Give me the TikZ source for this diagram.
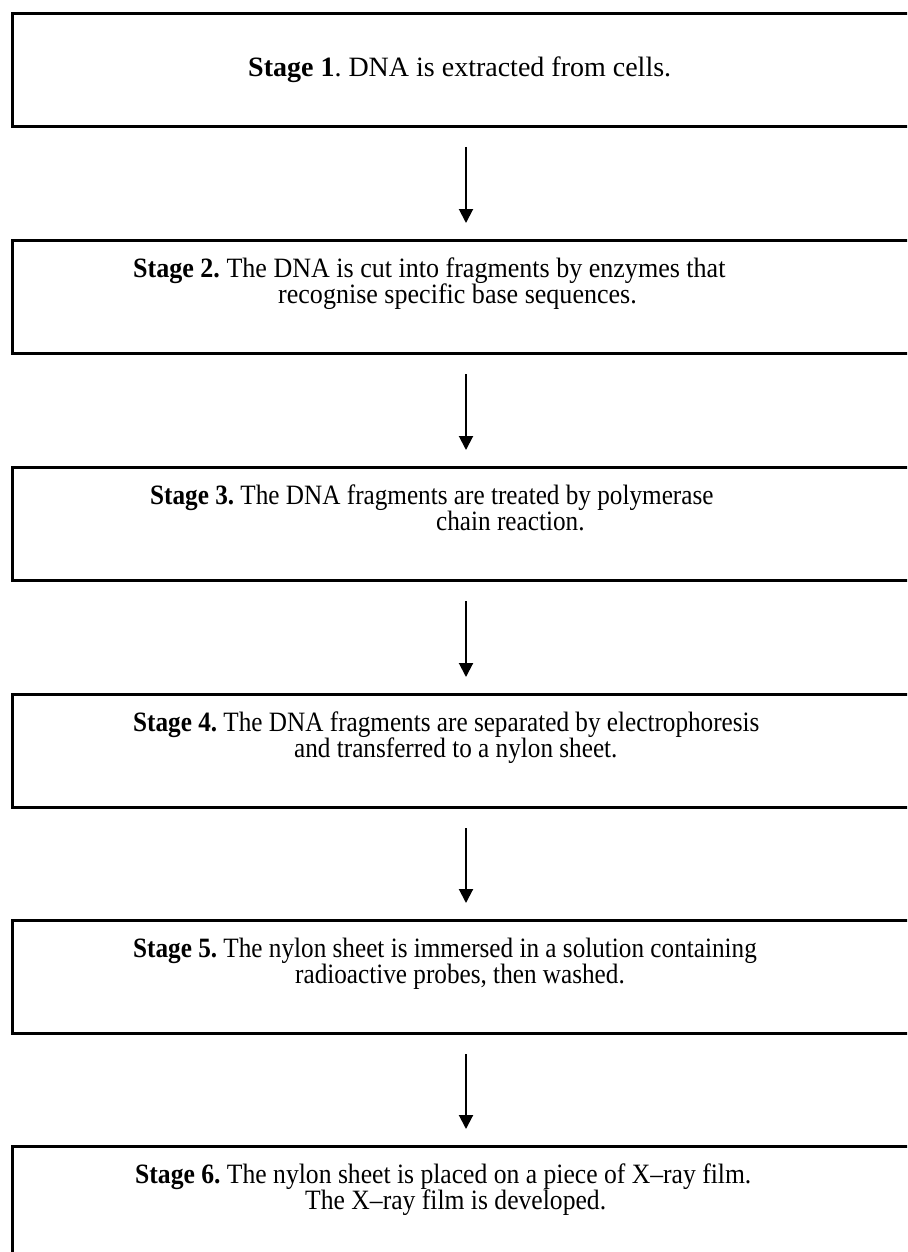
\documentclass[tikz,border=0pt]{standalone}
\usepackage{fontspec}
\setmainfont{Liberation Serif}
% slightly condensed cuts of the serif for the longer descriptions
\newfontfamily\serifA{Liberation Serif}[FakeStretch=0.93]
\newfontfamily\serifB{Liberation Serif}[FakeStretch=0.90]
\newfontfamily\serifC{Liberation Serif}[FakeStretch=0.915]
\usetikzlibrary{arrows.meta,calc}
\begin{document}
\frenchspacing
\begin{tikzpicture}[x=1pt,y=-1pt,
  stagebox/.style={draw, line width=3pt, minimum width=907pt, minimum height=113pt,
    inner sep=0pt, anchor=north west},
  stagetext/.style={align=left, inner sep=0pt, anchor=base west},
  flow/.style={-{Triangle[width=14pt,length=14pt]}, line width=2pt,
    shorten <=19pt, shorten >=16pt}]
\useasboundingbox (0,0) rectangle (907,1252);
\clip (0,0) rectangle (907,1252);

% the six stage boxes (they run past the right edge)
\node[stagebox] (b1) at (11,12) {};
\node[stagebox] (b2) at (11,239) {};
\node[stagebox] (b3) at (11,466) {};
\node[stagebox] (b4) at (11,693) {};
\node[stagebox] (b5) at (11,919) {};
\node[stagebox] (b6) at (11,1145) {};

% stage descriptions (the base anchor sits on the last line)
\node[stagetext, font=\fontsize{28}{26}\selectfont] (t1) at (248,77)
  {\textbf{Stage 1}. DNA is extracted from cells.};
\node[stagetext, font=\serifA\fontsize{28}{26}\selectfont] (t2) at (133,303)
  {\textbf{Stage 2.} The DNA is cut into fragments by enzymes that\\
  \hspace*{145pt}recognise specific base sequences.};
\node[stagetext, font=\serifB\fontsize{28}{26}\selectfont] (t3) at (150,530)
  {\textbf{Stage 3.} The DNA fragments are treated by polymerase\\
  \hspace*{286pt}chain reaction.};
\node[stagetext, font=\serifB\fontsize{28}{26}\selectfont] (t4) at (133,757)
  {\textbf{Stage 4.} The DNA fragments are separated by electrophoresis\\
  \hspace*{161pt}and transferred to a nylon sheet.};
\node[stagetext, font=\serifB\fontsize{28}{26}\selectfont] (t5) at (133,983)
  {\textbf{Stage 5.} The nylon sheet is immersed in a solution containing\\
  \hspace*{162pt}radioactive probes, then washed.};
\node[stagetext, font=\serifC\fontsize{28}{26}\selectfont] (t6) at (135,1209)
  {\textbf{Stage 6.} The nylon sheet is placed on a piece of X–ray film.\\
  \hspace*{170pt}The X–ray film is developed.};

% arrows between consecutive stages
\draw[flow] (b1) -- (b2);
\draw[flow] (b2) -- (b3);
\draw[flow] (b3) -- (b4);
\draw[flow] (b4) -- (b5);
\draw[flow] (b5) -- (b6);
\end{tikzpicture}
\end{document}
